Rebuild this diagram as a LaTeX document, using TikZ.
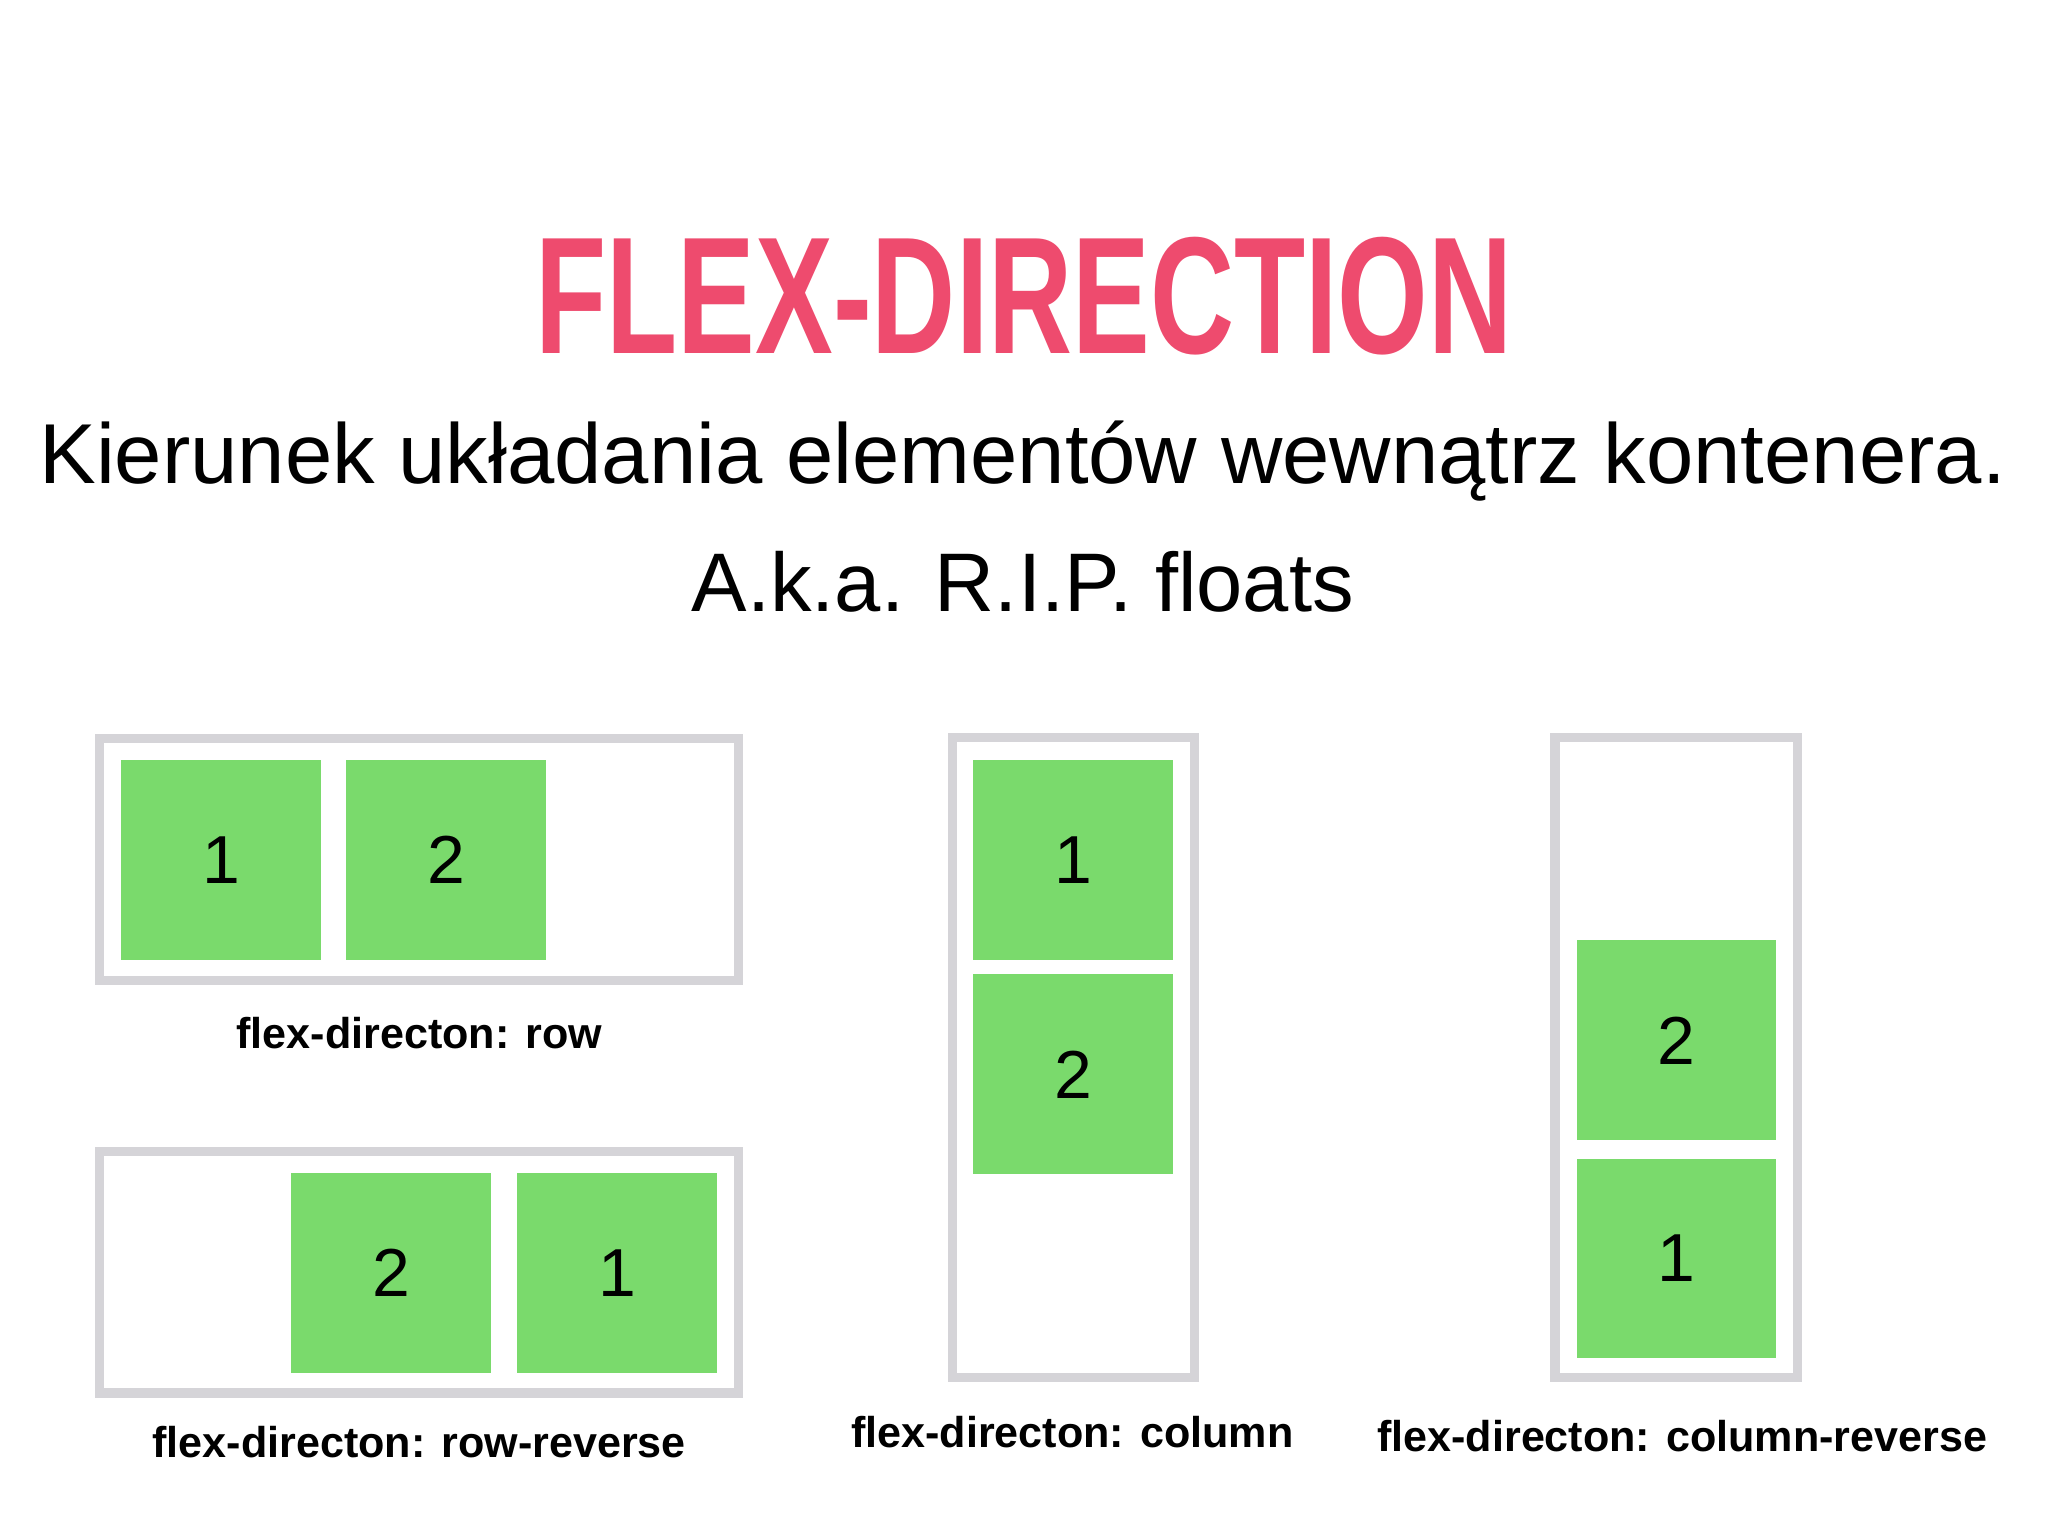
\documentclass[tikz,border=0pt]{standalone}
\usepackage{fontspec}
\setmainfont{Liberation Sans}
\usepackage{graphicx}
\definecolor{pink}{HTML}{EE4B6E}
\definecolor{gbox}{HTML}{D5D4D8}
\definecolor{grn}{HTML}{7ADA6C}
\begin{document}
\begin{tikzpicture}[x=1pt,y=-1pt,
  frame/.style={draw=gbox,line width=7pt},
  item/.style={fill=grn,draw=none,minimum width=153pt,minimum height=153pt,inner sep=0pt,font=\fontsize{52}{52}\selectfont},
  lbl/.style={font=\bfseries\fontsize{33}{33}\selectfont,anchor=base}]
\useasboundingbox[fill=white] (0,0) rectangle (1568,1176);
\node[text=pink,inner sep=0pt,anchor=south] (title) at (784,272) {\resizebox{748pt}{89pt}{\bfseries FLEX-DIRECTION}};
\node[inner sep=0pt,anchor=base] (sub) at (783,370) {\resizebox{1505pt}{!}{Kierunek układania elementów wewnątrz kontenera.}};
\node[inner sep=0pt,anchor=base] (aka) at (783,468) {\resizebox{507pt}{!}{A.k.a. R.I.P. floats}};
% row
\draw[frame] (76.5,565.5) rectangle (565.5,750.5);
\node[item] (r1) at (169.5,658.5) {1};
\node[item] (r2) at (341.5,658.5) {2};
\node[lbl] (lr) at (321,803) {flex-directon: row};
% row-reverse
\draw[frame] (76.5,881.5) rectangle (565.5,1066.5);
\node[item] (rr2) at (299.5,974.5) {2};
\node[item] (rr1) at (472.5,974.5) {1};
\node[lbl] (lrr) at (321,1116) {flex-directon: row-reverse};
% column
\draw[frame] (729.5,564.5) rectangle (914.5,1054.5);
\node[item] (c1) at (821.5,658.5) {1};
\node[item] (c2) at (821.5,822.5) {2};
\node[lbl] (lc) at (821,1108) {flex-directon: column};
% column-reverse
\draw[frame] (1190.5,564.5) rectangle (1376.5,1054.5);
\node[item] (cr2) at (1283.5,796.5) {2};
\node[item] (cr1) at (1283.5,963.5) {1};
\node[lbl] (lcr) at (1288,1111) {flex-directon: column-reverse};
\end{tikzpicture}
\end{document}
